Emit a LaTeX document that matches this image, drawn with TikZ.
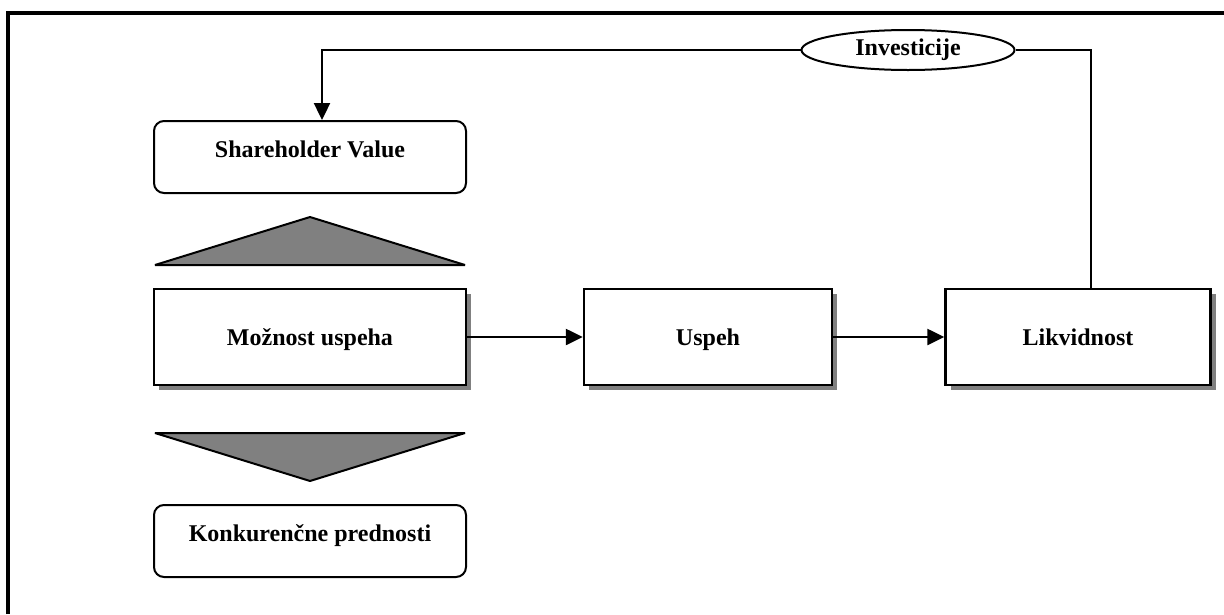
\documentclass[tikz,border=0pt]{standalone}
\usepackage{fontspec}
\setmainfont{Liberation Serif}
\usetikzlibrary{arrows.meta, positioning, shapes.geometric, shadows}
\definecolor{shadowgray}{RGB}{128,128,128}
\definecolor{wedgegray}{RGB}{128,128,128}

\tikzset{
  flowbox/.style={draw, line width=2.4pt, fill=white, minimum width=312pt, minimum height=96pt,
    text height=17pt, text depth=1pt,
    drop shadow={fill=shadowgray, opacity=1, shadow xshift=5pt, shadow yshift=-5pt}},
  roundbox/.style={draw, line width=2pt, rounded corners=10pt, minimum width=312pt,
    minimum height=72pt, text height=16pt, text depth=16pt},
  wedge/.style={draw, line width=2pt, line join=bevel, fill=wedgegray},
  link/.style={line width=2.4pt, -{Triangle[length=17pt, width=16pt]}}
}

\begin{document}
\begin{tikzpicture}[x=1pt, y=-1pt, font=\fontsize{24}{28}\selectfont\bfseries]
  \useasboundingbox (0,0) rectangle (1224,614);
  % Frame
  \draw[line width=3.5pt] (8,614) -- (8,13) -- (1224,13);
  % Left column
  \node[roundbox] (sv) at (310,157) {Shareholder Value};
  \node[flowbox] (mu) at (310,337) {Možnost uspeha};
  \node[roundbox] (kp) at (310,541) {Konkurenčne prednosti};
  \draw[wedge] (155,265) -- (310,217) -- (465,265) -- cycle;
  \draw[wedge] (155,433) -- (310,481) -- (465,433) -- cycle;
  % Main row
  \node[flowbox, minimum width=248pt] (us) at (708,337) {Uspeh};
  \node[flowbox, minimum width=265pt] (lk) at (1078,337) {Likvidnost};
  \draw[link] (mu) -- (us);
  \draw[link] (us) -- (lk);
  % Feedback loop
  \node[draw, ellipse, line width=2pt, minimum width=213pt, minimum height=40pt, inner sep=0pt] (inv) at (908,50) {Investicije};
  \coordinate (loopl) at (322,50);
  \coordinate (loopr) at (1091,50);
  \draw[line width=2.4pt] (lk.north -| loopr) -- (loopr) -- (inv.east);
  \draw[link] (inv.west) -- (loopl) -- (loopl |- sv.north);
\end{tikzpicture}
\end{document}
